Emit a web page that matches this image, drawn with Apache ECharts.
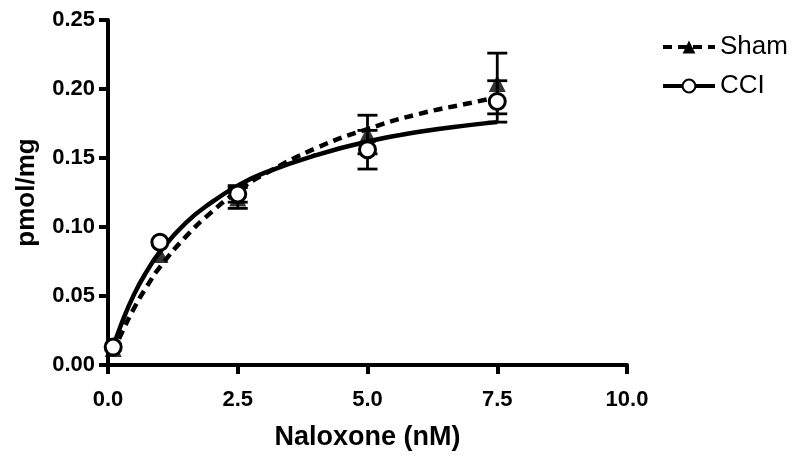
<!DOCTYPE html>
<html>
<head>
<meta charset="utf-8">
<script src="https://cdn.jsdelivr.net/npm/echarts@6/dist/echarts.min.js"></script>
<style>html,body{margin:0;padding:0;background:#fff}#c{width:800px;height:458px}</style>
</head>
<body>
<div id="c"></div>
<script>
// Measured points
const doseX = [0.1, 1, 2.5, 5, 7.5];
const shamMean = [0.012, 0.080, 0.121, 0.167, 0.204];
const shamErr  = [0.000, 0.000, 0.0075, 0.014, 0.022];
const cciMean  = [0.013, 0.089, 0.124, 0.156, 0.191];
const cciErr   = [0.000, 0.000, 0.006, 0.014, 0.015];
// Fitted curves
const curveX   = [0.1, 0.25, 0.5, 0.75, 1, 1.5, 2, 2.5, 3, 4, 5, 6, 7, 7.5];
const shamFit  = [0.009, 0.022, 0.041, 0.057, 0.071, 0.093, 0.111, 0.126, 0.138, 0.157, 0.171, 0.182, 0.190, 0.194];
const cciFit   = [0.013, 0.029, 0.051, 0.068, 0.082, 0.103, 0.118, 0.130, 0.139, 0.152, 0.162, 0.169, 0.174, 0.176];
const xTicks = [0, 2.5, 5, 7.5, 10];
const yTicks = [0, 0.05, 0.10, 0.15, 0.20, 0.25];

const pair = (xs, ys) => xs.map((x, i) => [x, ys[i]]);
const errData = (m, e) => doseX.map((x, i) => [x, m[i] - e[i], m[i] + e[i]]).filter((d, i) => e[i] > 0);

function errRender(params, api) {
  const x = api.value(0);
  const lo = api.coord([x, api.value(1)]);
  const hi = api.coord([x, api.value(2)]);
  const w = 10;
  const st = { stroke: '#000', lineWidth: 2.8 };
  return {
    type: 'group',
    children: [
      { type: 'line', shape: { x1: lo[0], y1: lo[1], x2: hi[0], y2: hi[1] }, style: st },
      { type: 'line', shape: { x1: lo[0] - w, y1: lo[1], x2: lo[0] + w, y2: lo[1] }, style: st },
      { type: 'line', shape: { x1: hi[0] - w, y1: hi[1], x2: hi[0] + w, y2: hi[1] }, style: st }
    ]
  };
}

const chart = echarts.init(document.getElementById('c'));
const font = 'Liberation Sans, Arial, sans-serif';
chart.setOption({
  animation: false,
  textStyle: { fontFamily: font },
  grid: { left: 108, right: 173, top: 20, bottom: 93 },
  legend: {
    left: 656, top: 29, orient: 'vertical', itemGap: 13,
    itemWidth: 52, itemHeight: 16,
    lineStyle: { width: 4 },
    textStyle: { fontSize: 26, color: '#000', fontFamily: font },
    data: ['Sham', 'CCI']
  },
  xAxis: {
    type: 'value', min: 0, max: 10, interval: 2.5,
    name: 'Naloxone (nM)', nameLocation: 'middle', nameGap: 59,
    nameTextStyle: { fontSize: 27, fontWeight: 'bold', color: '#000' },
    axisLine: { onZero: false, lineStyle: { color: '#000', width: 4 } },
    axisTick: { show: true, length: 9, lineStyle: { width: 4, color: '#000' } },
    axisLabel: { fontSize: 22, fontWeight: 'bold', color: '#000', margin: 24, formatter: v => v.toFixed(1) },
    splitLine: { show: false }
  },
  yAxis: {
    type: 'value', min: 0, max: 0.25, interval: 0.05,
    name: 'pmol/mg', nameLocation: 'middle', nameGap: 68, nameRotate: 90,
    nameTextStyle: { fontSize: 26, fontWeight: 'bold', color: '#000' },
    axisLine: { show: true, onZero: false, lineStyle: { color: '#000', width: 4 } },
    axisTick: { show: true, length: 9, lineStyle: { width: 4, color: '#000' } },
    axisLabel: { fontSize: 22, fontWeight: 'bold', color: '#000', margin: 13, formatter: v => v.toFixed(2) },
    splitLine: { show: false }
  },
  series: [
    {
      name: 'Sham', type: 'line', data: pair(curveX, shamFit), smooth: true,
      showSymbol: false, symbol: 'triangle', symbolSize: 16,
      itemStyle: { color: '#000' },
      lineStyle: { color: '#000', width: 4.5, type: [9, 6] }, z: 3
    },
    {
      name: 'CCI', type: 'line', data: pair(curveX, cciFit), smooth: true,
      showSymbol: false, symbol: 'circle', symbolSize: 16,
      itemStyle: { color: '#fff', borderColor: '#000', borderWidth: 3 },
      lineStyle: { color: '#000', width: 4.5 }, z: 3
    },
    { type: 'custom', renderItem: errRender, data: errData(shamMean, shamErr), z: 4 },
    { type: 'custom', renderItem: errRender, data: errData(cciMean, cciErr), z: 4 },
    {
      name: 'Sham', type: 'scatter', data: pair(doseX, shamMean), symbol: 'triangle', symbolSize: 17,
      itemStyle: { color: '#000' }, z: 5
    },
    {
      name: 'CCI', type: 'scatter', data: pair(doseX, cciMean), symbol: 'circle', symbolSize: 16,
      itemStyle: { color: '#fff', borderColor: '#000', borderWidth: 3, opacity: 1 }, z: 6
    }
  ]
});
</script>
</body>
</html>
